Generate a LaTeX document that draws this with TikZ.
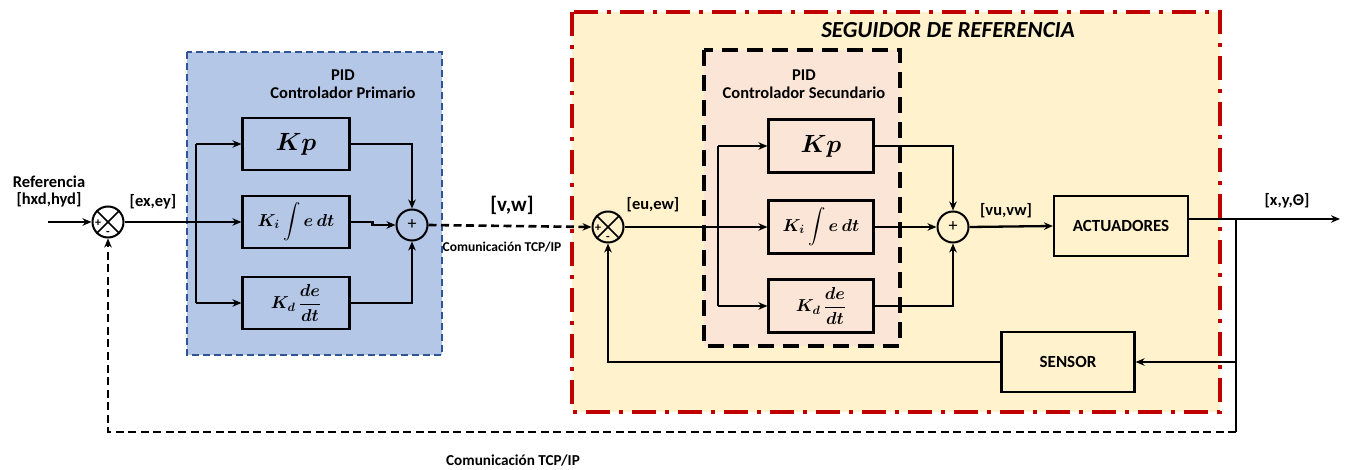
\documentclass[tikz,border=0pt]{standalone}
\usepackage{amsmath}
\usepackage{fontspec}
\setmainfont{Carlito}
\usetikzlibrary{arrows.meta}
\definecolor{blueF}{HTML}{B4C7E7}
\definecolor{blueD}{HTML}{2F5597}
\definecolor{yelF}{HTML}{FFF2CC}
\definecolor{redD}{HTML}{C00000}
\definecolor{pinkF}{HTML}{FBE5D6}
\begin{document}
\begin{tikzpicture}[x=1pt,y=-1pt, line width=2.3pt,
  >={Stealth[length=9pt,width=7.5pt]},
  blk/.style={draw, line width=2.2pt, minimum width=107pt, minimum height=52pt, inner sep=0pt},
  bigblk/.style={draw, line width=2.2pt, minimum width=134pt, minimum height=60pt, inner sep=0pt, font=\bfseries\fontsize{17}{19}\selectfont},
  sumc/.style={draw, circle, line width=2pt, minimum size=31pt, inner sep=0pt},
  lbl/.style={font=\bfseries\fontsize{16.5}{19}\selectfont},
  small/.style={font=\bfseries\fontsize{12}{12}\selectfont, inner sep=0pt},
  plus/.style={font=\fontsize{18}{18}\selectfont, inner sep=0pt},
  mth/.style={font=\boldmath\fontsize{18}{20}\selectfont},
  kpst/.style={font=\boldmath\fontsize{26}{28}\selectfont},
  comm/.style={line width=2.6pt, dash pattern=on 8pt off 4.5pt}]
\useasboundingbox (0,0) rectangle (1347,470);
\fill[white] (0,0) rectangle (1347,470);
% backgrounds
\path[fill=blueF, draw=blueD, line width=1.6pt, dash pattern=on 7pt off 4pt] (187,52) rectangle (442,355);
\path[fill=yelF, draw=redD, line width=4pt, dash pattern=on 24pt off 9pt on 4pt off 9pt] (572,12) rectangle (1220,412);
\path[fill=pinkF, draw=black, line width=4pt, dash pattern=on 16pt off 9pt] (704,50) rectangle (900,346);
\node[font=\bfseries\itshape\fontsize{23}{26}\selectfont] (title) at (948,30) {SEGUIDOR DE REFERENCIA};
\node[lbl, align=center] (pid1) at (343,84) {PID\\[-1pt]Controlador Primario};
\node[lbl, align=center] (pid2) at (804,84) {PID\\[-1pt]Controlador Secundario};
% primary controller
\node[sumc] (s1) at (108,222) {};
\draw[line width=1.6pt] (s1.north west) -- (s1.south east) (s1.north east) -- (s1.south west);
\node[small] (s1p) at (98,223) {+};
\node[small] (s1m) at (108,233) {-};
\node[blk, kpst] (kp) at (296,144) {$Kp$};
\node[blk, mth] (ki) at (296,222) {$K_i\displaystyle\int e\,dt$};
\node[blk, mth] (kd) at (296,303) {$K_d\,\dfrac{de}{dt}$};
\node[sumc] (s2) at (412,225) {};
\node[plus] (s2p) at (s2) {+};
\coordinate (in) at (48,222);
\coordinate (sp1) at (196,222);
\draw[->] (in) -- (s1.west);
\draw (s1.east) -- (sp1);
\draw (kp.west -| sp1) -- (kd.west -| sp1);
\draw[->] (kp.west -| sp1) -- (kp.west);
\draw[->] (sp1) -- (ki.west);
\draw[->] (kd.west -| sp1) -- (kd.west);
\draw[->] (kp.east) -| (s2.north);
\draw[->] (kd.east) -| (s2.south);
\draw[->] (ki.east) -- ++(22,0) |- (s2.west);
\node[lbl, align=center] (ref) at (49,192) {Referencia\\[-2pt][hxd,hyd]};
\node[lbl] (exey) at (153,202) {[ex,ey]};
% communication
\node[sumc] (s3) at (608,227) {};
\draw[line width=1.6pt] (s3.north west) -- (s3.south east) (s3.north east) -- (s3.south west);
\node[small] (s3p) at (598,228) {+};
\node[small] (s3m) at (608,238) {-};
\draw[comm, ->] (s2.east) -- (s3.west);
\node[font=\bfseries\fontsize{21}{23}\selectfont] (vw) at (512,205) {[v,w]};
\node[font=\bfseries\fontsize{13.5}{15}\selectfont] (tcp1) at (502,247) {Comunicación TCP/IP};
% secondary controller
\node[lbl] (euew) at (653,205) {[eu,ew]};
\node[blk, minimum width=105pt, minimum height=53pt, kpst] (kp2) at (821,146) {$Kp$};
\node[blk, minimum width=105pt, minimum height=53pt, mth] (ki2) at (821,227) {$K_i\displaystyle\int e\,dt$};
\node[blk, minimum width=105pt, minimum height=53pt, mth] (kd2) at (821,306) {$K_d\,\dfrac{de}{dt}$};
\node[sumc] (s4) at (953,227) {};
\node[plus] (s4p) at (s4) {+};
\coordinate (sp2) at (718,227);
\draw (s3.east) -- (sp2);
\draw (kp2.west -| sp2) -- (kd2.west -| sp2);
\draw[->] (kp2.west -| sp2) -- (kp2.west);
\draw[->] (sp2) -- (ki2.west);
\draw[->] (kd2.west -| sp2) -- (kd2.west);
\draw[->] (kp2.east) -| (s4.north);
\draw[->] (kd2.east) -| (s4.south);
\draw[->] (ki2.east) -- (s4.west);
\node[lbl] (vuvw) at (1006,211) {[vu,vw]};
\node[bigblk] (act) at (1121,226) {ACTUADORES};
\node[bigblk, minimum width=133pt] (sen) at (1068,362) {SENSOR};
\draw[->] (s4.east) -- (act.west);
\coordinate (out) at (1340,219);
\coordinate (br) at (1236,219);
\coordinate (bc) at (1236,432);
\draw[->] ([yshift=7pt]act.east) -- (out);
\node[lbl] (xyt) at (1287,201) {[x,y,Θ]};
\draw[->] (br) |- (sen.east);
\draw (br |- sen.east) -- (bc);
\draw[->] (sen.west) -| (s3.south);
\draw[comm, ->] (bc) -| (s1.south);
\node[font=\bfseries\fontsize{15.2}{17}\selectfont] (tcp2) at (513,461) {Comunicación TCP/IP};
\end{tikzpicture}
\end{document}
